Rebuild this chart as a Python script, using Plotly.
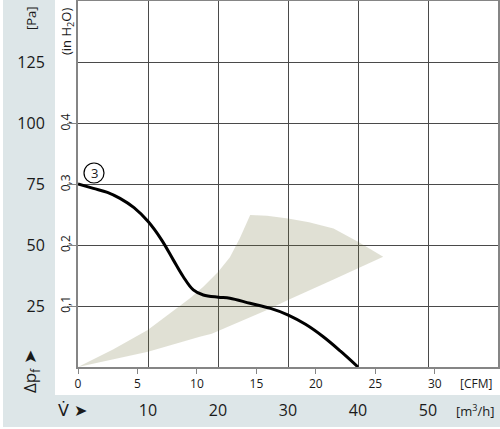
import plotly.graph_objects as go

# ---- data ----
flow_m3h = [0, 2.19, 4.2, 6.0, 8.0, 10.05, 11.96, 13.61, 15.04, 16.47, 17.9, 20.04, 21.7, 24.57, 27.5, 30.04, 32.5, 35.04, 37.5, 40.0]
pressure_pa = [75, 73.2, 71.6, 69.1, 65.3, 59.5, 52.0, 43.9, 37.0, 31.6, 29.5, 28.6, 28.2, 26.1, 24.0, 21.3, 17.5, 12.4, 6.5, 0]

zone_x = [0, 5, 9.96, 14.1, 16.0, 17.9, 20.04, 21.7, 23.1, 24.6, 27.0, 30.0, 33.0, 36.5, 40.0, 43.6,
          40.0, 36.5, 30.0, 27.0, 19.1, 17.4, 10.0, 5.0, 0]
zone_y = [0, 7.2, 15.2, 24.0, 28.2, 32.9, 39.0, 45.0, 52.7, 62.3, 62.0, 60.9, 59.3, 56.8, 51.3, 45.2,
          40.4, 35.9, 27.5, 23.4, 13.6, 12.4, 6.3, 3.0, 0]

m3h_ticks = [10, 20, 30, 40, 50]
cfm_ticks = [0, 5, 10, 15, 20, 25, 30]
pa_ticks = [25, 50, 75, 100, 125]
inh2o_ticks = [0.1, 0.2, 0.3, 0.4]
inh2o_labels = ["0,1", "0,2", "0,3", "0,4"]
curve_label = "3"

M3H_PER_CFM = 1.699
PA_PER_INH2O = 249.089
X_MAX = 60
Y_MAX = 150

W, H = 500, 429
ML, MR, MT, MB = 78, 2, 1, 62
PW, PH = W - ML - MR, H - MT - MB

def px(x):
    return (x - ML) / PW

def py(y):
    return (H - MB - y) / PH

FONT = "Open Sans"
TXT = "#1a1a1a"
BAND = "#dde6e8"

fig = go.Figure()

fig.add_trace(go.Scatter(
    x=zone_x, y=zone_y, mode="lines", fill="toself",
    fillcolor="rgba(114,114,60,0.22)", line=dict(width=0),
    hoverinfo="skip", showlegend=False))

fig.add_trace(go.Scatter(
    x=flow_m3h, y=pressure_pa, mode="lines",
    line=dict(color="black", width=3, shape="spline", smoothing=1.0),
    showlegend=False))

# invisible traces to activate secondary axes
fig.add_trace(go.Scatter(x=[0], y=[0], xaxis="x2", yaxis="y", mode="markers",
                         marker=dict(opacity=0), hoverinfo="skip", showlegend=False))
fig.add_trace(go.Scatter(x=[0], y=[0], xaxis="x", yaxis="y2", mode="markers",
                         marker=dict(opacity=0), hoverinfo="skip", showlegend=False))

shapes = [
    dict(type="rect", xref="paper", yref="paper", x0=px(3), x1=px(55), y0=py(395), y1=py(0),
         fillcolor=BAND, line=dict(width=0), layer="below"),
    dict(type="rect", xref="paper", yref="paper", x0=px(3), x1=px(500), y0=py(427), y1=py(395),
         fillcolor=BAND, line=dict(width=0), layer="below"),
    dict(type="circle", xref="x", yref="y", xsizemode="pixel", ysizemode="pixel",
         xanchor=flow_m3h[0], yanchor=pressure_pa[0], x0=6, x1=26, y0=1, y1=21,
         line=dict(color="black", width=1.2), fillcolor="white", layer="above"),
]

def note(x, y, text, size, angle=0, family=FONT):
    return dict(x=px(x), y=py(y), xref="paper", yref="paper", text=text, textangle=angle,
                xanchor="center", yanchor="middle", showarrow=False,
                font=dict(family=family, size=size, color=TXT))

annotations = [
    dict(x=flow_m3h[0], y=pressure_pa[0], xref="x", yref="y", text=curve_label,
         xanchor="center", yanchor="middle",
         xshift=16, yshift=11, showarrow=False, font=dict(family=FONT, size=13, color=TXT)),
    note(31, 18, "[Pa]", 13, -90),
    note(67, 32, "(in H<sub>2</sub>O)", 13, -90),
    note(31, 372, "Δp<sub>f</sub> ➤", 17, -90),
    note(72, 411, "V̇ ➤", 16, 0, "DejaVu Sans"),
    note(476, 383, "[CFM]", 12),
    note(475, 411, "[m<sup>3</sup>/h]", 13),
]

fig.update_layout(
    width=W, height=H,
    margin=dict(l=ML, r=MR, t=MT, b=MB, autoexpand=False),
    paper_bgcolor="white", plot_bgcolor="white",
    shapes=shapes, annotations=annotations,
    xaxis=dict(range=[0, X_MAX], tickvals=m3h_ticks, showgrid=True, gridcolor="#4a4a4a",
               gridwidth=1.3, showline=True, linecolor="#858585", linewidth=2, mirror=True,
               ticks="", zeroline=False, ticklabelstandoff=28, automargin=False,
               tickfont=dict(family=FONT, size=16, color=TXT)),
    xaxis2=dict(overlaying="x", side="bottom", anchor="y", range=[0, X_MAX / M3H_PER_CFM],
                tickvals=cfm_ticks, showgrid=False, zeroline=False, showline=False,
                ticks="outside", ticklen=6, tickcolor="#858585", tickwidth=1.3, automargin=False,
                tickfont=dict(family=FONT, size=12, color=TXT)),
    yaxis=dict(range=[0, Y_MAX], tickvals=pa_ticks, showgrid=True, gridcolor="#4a4a4a",
               gridwidth=1.3, showline=True, linecolor="#858585", linewidth=2, mirror=True,
               ticks="", zeroline=False, ticklabelstandoff=28, automargin=False,
               tickfont=dict(family=FONT, size=16, color=TXT)),
    yaxis2=dict(overlaying="y", side="left", anchor="x", range=[0, Y_MAX / PA_PER_INH2O],
                tickvals=inh2o_ticks, ticktext=inh2o_labels, tickangle=-90,
                showgrid=False, zeroline=False, showline=False,
                ticks="outside", ticklen=10, tickcolor="#858585", tickwidth=1.3, automargin=False,
                ticklabelstandoff=-8,
                tickfont=dict(family=FONT, size=12, color=TXT)),
    hovermode=False,
)

fig.write_html("out.html", config={"displayModeBar": False},
               post_script="document.body.style.margin='0';document.body.style.padding='0';")
